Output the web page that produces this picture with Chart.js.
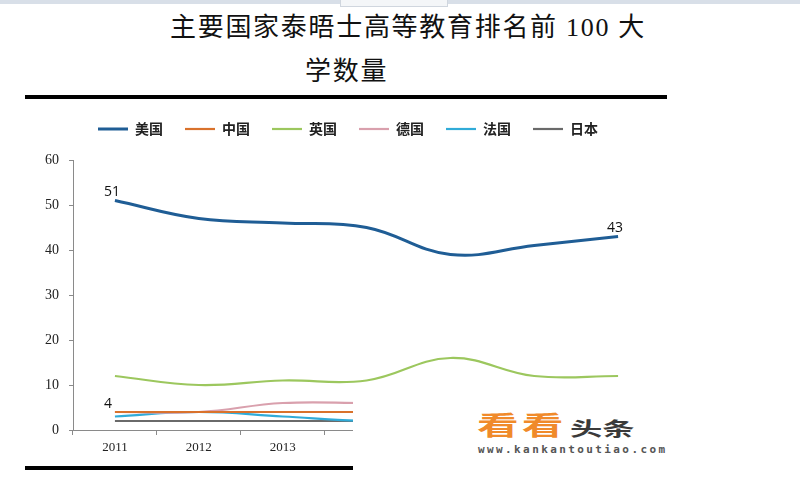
<!DOCTYPE html>
<html>
<head>
<meta charset="utf-8">
<script src="https://cdn.jsdelivr.net/npm/chart.js@4"></script>
<style>
  html, body { margin: 0; padding: 0; background: #fff; }
  body { width: 800px; height: 484px; position: relative; overflow: hidden; }
  .topbar { position: absolute; left: 0; top: 0; width: 800px; height: 4px; background: #d8dfe8; }
  .topbox { position: absolute; left: 340px; top: 0; width: 106px; height: 6px; border: 1px solid #d0d6de; border-top: none; background: #f4f6f8; }
  .title { position: absolute; font-family: "Liberation Serif", "Noto Sans CJK SC", serif; font-size: 26px; color: #111; white-space: nowrap; line-height: 30px; letter-spacing: 1.7px; }
  .rule { position: absolute; left: 25px; width: 642px; height: 4px; background: #000; }
  #wrap { position: absolute; left: 0; top: 100px; width: 680px; height: 370px; }
  .wm { position: absolute; left: 353px; top: 393px; width: 330px; height: 88px; background: #fff; }
  .wm span { position: absolute; white-space: nowrap; transform-origin: left top; }
  .wm .kk { left: 124px; top: 18px; font: bold 26px/26px "Noto Sans CJK SC"; color: #f08a2a; letter-spacing: 2px; transform: scaleX(1.6); }
  .wm .tt { left: 217px; top: 25px; font: bold 19px/19px "Noto Sans CJK SC"; color: #3a3a3a; transform: scaleX(1.7); }
  .wm .url { left: 125px; top: 51px; font: bold 11px/11px "DejaVu Sans Mono", monospace; color: #555; letter-spacing: 2.4px; }
</style>
</head>
<body>
<div class="topbar"></div>
<div class="topbox"></div>
<div class="title" style="left:170px; top:13px;">主要国家泰晤士高等教育排名前 100 大</div>
<div class="title" style="left:305px; top:57px;">学数量</div>
<div class="rule" style="top:95px;"></div>
<div class="rule" style="top:466px;"></div>
<div id="wrap"><canvas id="chart"></canvas></div>
<div class="wm">
  <span class="kk">看看</span><span class="tt">头条</span>
  <span class="url">www.kankantoutiao.com</span>
</div>
<script>
/* Top-100 universities by country, 2011-2017 */
const years   = ['2011', '2012', '2013', '2014', '2015', '2016', '2017'];
const usa     = [51, 47, 46, 45, 39, 41, 43];
const china   = [4, 4, 4, 4, 4, 4, 4];
const uk      = [12, 10, 11, 11, 16, 12, 12];
const germany = [4, 4, 6, 6, 6, 6, 6];
const france  = [3, 4, 3, 2, 2, 2, 2];
const japan   = [2, 2, 2, 2, 2, 2, 2];
const yTicks  = [0, 10, 20, 30, 40, 50, 60];

const names  = ['美国', '中国', '英国', '德国', '法国', '日本'];
const series = [usa, china, uk, germany, france, japan];
const colors = ['#1f5d95', '#d9722c', '#9cc75e', '#d9a0ad', '#30abd8', '#6a6a6a'];

// value labels shown on the chart: [dataset, point index]
const shownLabels = [[0, 0], [0, 6], [3, 0]];

const serif = '"Liberation Serif", "Times New Roman", serif';

const datasets = series.map((data, i) => ({
  label: names[i],
  data,
  borderColor: colors[i],
  backgroundColor: colors[i],
  borderWidth: i === 0 ? 3 : 2.2,
  pointRadius: 0,
  pointHoverRadius: 0,
  tension: 0.4,
  fill: false,
}));

const legendSpace = {
  id: 'legendSpace',
  beforeInit(chart) {
    const fit = chart.legend.fit;
    chart.legend.fit = function () {
      fit.bind(chart.legend)();
      this.height = 60;
    };
  }
};

const valueLabels = {
  id: 'valueLabels',
  afterDatasetsDraw(chart) {
    const ctx = chart.ctx;
    ctx.save();
    ctx.font = '14px "Open Sans", "DejaVu Sans", sans-serif';
    ctx.fillStyle = '#111';
    ctx.textAlign = 'center';
    ctx.textBaseline = 'bottom';
    shownLabels.forEach(([d, i]) => {
      const pt = chart.getDatasetMeta(d).data[i];
      const v = chart.data.datasets[d].data[i];
      const dx = String(v).length === 1 ? -7 : -3;
      ctx.fillText(String(v), pt.x + dx, pt.y - 1);
    });
    ctx.restore();
  }
};

new Chart(document.getElementById('chart').getContext('2d'), {
  type: 'line',
  data: { labels: years, datasets },
  plugins: [legendSpace, valueLabels],
  options: {
    responsive: true,
    maintainAspectRatio: false,
    animation: false,
    layout: { padding: { top: 0, right: 20, bottom: 10, left: 36 } },
    plugins: {
      title: { display: false },
      tooltip: { enabled: false },
      legend: {
        display: true,
        position: 'top',
        labels: {
          color: '#222',
          font: { family: '"Noto Sans CJK SC"', size: 14, weight: 'bold' },
          usePointStyle: true,
          pointStyle: 'line',
          pointStyleWidth: 30,
          boxHeight: 14,
          padding: 22,
        }
      }
    },
    scales: {
      x: {
        offset: true,
        afterFit: s => { s.height = 30; },
        border: { color: '#8a8a8a', width: 1 },
        grid: { display: true, drawOnChartArea: false, offset: true, tickLength: 5, color: '#8a8a8a' },
        ticks: { color: '#222', font: { family: serif, size: 13 }, padding: 5, maxRotation: 0 }
      },
      y: {
        min: 0,
        max: 60,
        afterFit: s => { s.width = 37; },
        afterBuildTicks: s => { s.ticks = yTicks.map(v => ({ value: v })); },
        border: { color: '#8a8a8a', width: 1 },
        grid: { display: true, drawOnChartArea: false, tickLength: 4, color: '#8a8a8a' },
        ticks: { color: '#222', font: { family: serif, size: 14 }, padding: 10 }
      }
    }
  }
});
</script>
</body>
</html>
